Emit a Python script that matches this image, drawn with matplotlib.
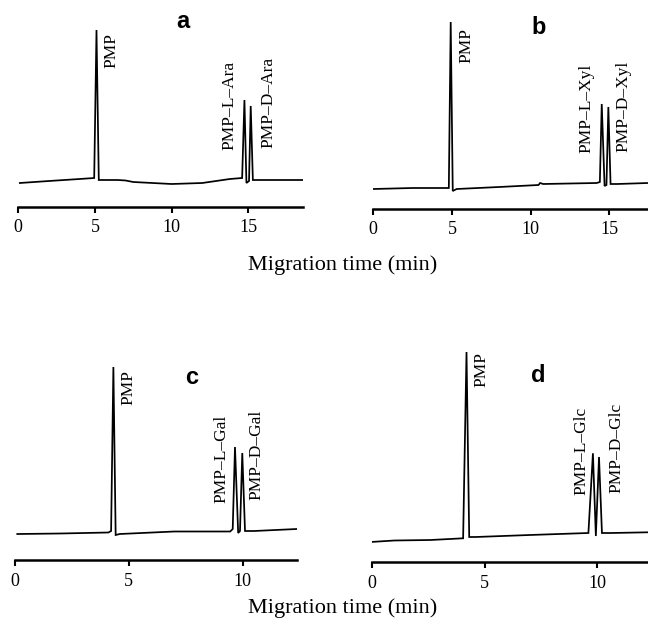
import matplotlib
matplotlib.use("Agg")
import matplotlib.pyplot as plt

# Electropherograms of PMP-labelled sugar enantiomers (signal in arbitrary units)
TIME_A = [0.1, 2.0, 4.0, 4.95, 5.1, 5.25, 6.5, 7.0, 7.5, 10.0, 12.0, 13.8, 14.6, 14.75, 14.88, 15.05, 15.16, 15.3, 16.0, 18.55]
SIG_A = [0, 2, 4, 5, 153, 3, 3, 2.5, 1, -1, 0, 4, 5, 83, 0, 2, 77, 3, 3, 3]
NAMES_A = ["PMP", "PMP–L–Ara", "PMP–D–Ara"]

TIME_B = [0.0, 2.5, 4.8, 4.92, 5.05, 5.3, 8.0, 10.5, 10.6, 10.8, 14.2, 14.4, 14.52, 14.7, 14.82, 14.94, 15.08, 15.5, 17.46]
SIG_B = [0, 1, 1, 167, -2, 0, 2, 4, 6, 5, 6, 7, 85, 3, 4, 82, 5, 5, 6]
NAMES_B = ["PMP", "PMP–L–Xyl", "PMP–D–Xyl"]

TIME_C = [0.1, 2.0, 4.1, 4.22, 4.32, 4.42, 4.6, 7.0, 9.45, 9.56, 9.66, 9.8, 9.88, 9.98, 10.1, 10.5, 12.37]
SIG_C = [0, 0.5, 1.5, 3, 167, -1, 0, 2.5, 2.5, 5, 87, 1, 3, 81, 3, 3, 5]
NAMES_C = ["PMP", "PMP–L–Gal", "PMP–D–Gal"]

TIME_D = [-0.05, 1.0, 2.6, 4.05, 4.2, 4.32, 4.6, 7.0, 9.6, 9.8, 9.93, 10.07, 10.2, 10.6, 12.24]
SIG_D = [0, 1.5, 2, 3.7, 190, 5, 5, 7, 9, 88.7, 6, 85, 9, 9, 9.7]
NAMES_D = ["PMP", "PMP–L–Glc", "PMP–D–Glc"]

W, H = 648, 629
SERIF = "Liberation Serif"

fig = plt.figure(figsize=(W / 100, H / 100), dpi=100)


def panel(time, sig, names, letter, box, xmax, ybot, ticks, label_pos, letter_pos):
    left, right, bottom, top = box
    ax = fig.add_axes([left / W, 1 - bottom / H, (right - left) / W, (bottom - top) / H])
    ax.plot(time, sig, color="black", lw=1.25, solid_joinstyle="miter")
    ax.set_xlim(0, xmax)
    ax.set_ylim(ybot, ybot + (bottom - top))
    for s in ["left", "right", "top"]:
        ax.spines[s].set_visible(False)
    ax.spines["bottom"].set_linewidth(1.8)
    ax.set_yticks([])
    ax.set_xticks(ticks)
    ax.tick_params(axis="x", direction="out", length=4, width=1.5, pad=5, labelsize=13)
    for lab in ax.get_xticklabels():
        lab.set_fontfamily(SERIF)
    for name, (tx, ty) in zip(names, label_pos):
        ax.text(tx, ty, name, rotation=90, ha="center", va="bottom",
                fontsize=12.5, family=SERIF)
    fig.text(letter_pos[0] / W, 1 - letter_pos[1] / H, letter, ha="center", va="center",
             fontsize=17, fontweight="bold", family="Liberation Sans")
    return ax


panel(TIME_A, SIG_A, NAMES_A, "a", (18.3, 303, 207, 10), 18.57, -24, [0, 5, 10, 15],
      [(6.1, 115), (13.8, 33), (16.3, 35)], (183, 22))
panel(TIME_B, SIG_B, NAMES_B, "b", (373.3, 648, 209, 10), 17.46, -20, [0, 5, 10, 15],
      [(5.9, 126), (13.57, 36), (15.9, 37)], (539, 28))
panel(TIME_C, SIG_C, NAMES_C, "c", (15, 296.7, 560, 355), 12.37, -26, [0, 5, 10],
      [(4.98, 129), (9.08, 31), (10.62, 34)], (192, 377))
panel(TIME_D, SIG_D, NAMES_D, "d", (371.7, 648, 562, 345), 12.24, -20, [0, 5, 10],
      [(4.87, 155), (9.3, 47), (10.85, 49)], (538, 376))

for y in (265, 608):
    fig.text(343 / W, 1 - y / H, "Migration time (min)", ha="center", va="center",
             fontsize=16, family=SERIF)

fig.savefig("out.png", dpi=100)
